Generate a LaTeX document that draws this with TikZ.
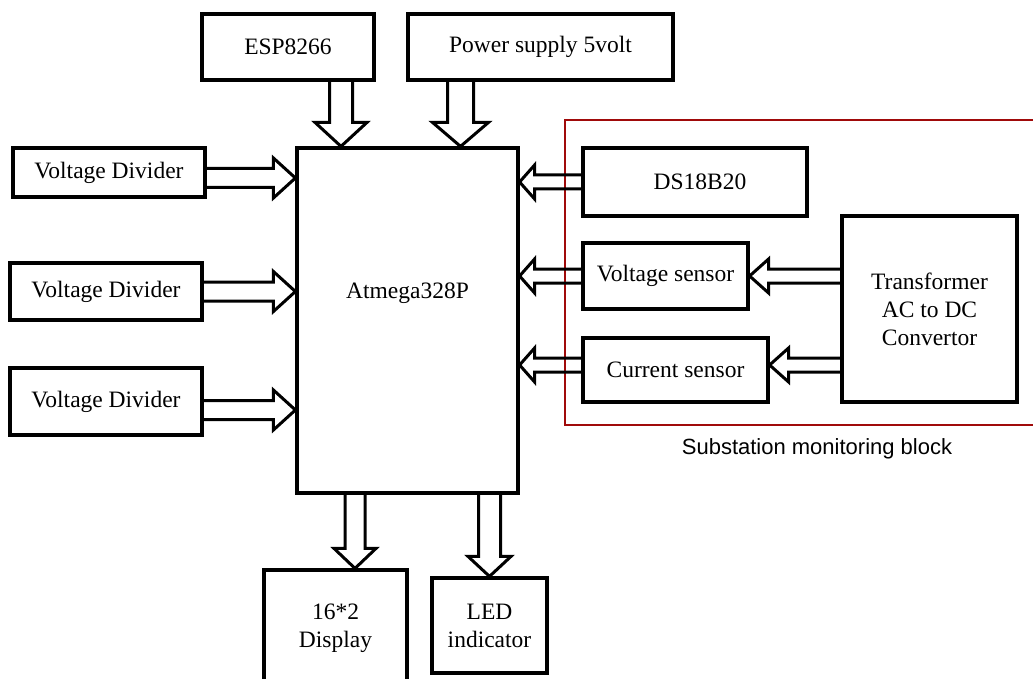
\documentclass[tikz,border=0pt]{standalone}
\usepackage{fontspec}
\setmainfont{Liberation Serif}
\newfontfamily\labelsans{Liberation Sans}
\usetikzlibrary{calc}
\definecolor{redline}{RGB}{160,10,10}
\tikzset{
  box/.style={draw, line width=3.2pt, inner sep=0pt, align=center,
    font=\fontsize{23.5}{28}\selectfont},
  bus/.style={draw, line width=3pt, line join=miter},
  groupframe/.style={draw=redline, line width=2.4pt},
}
% #1 from, #2 tip, #3 shaft half width, #4 head half width, #5 head length
\newcommand\busarrow[5]{%
  \path ($(#2)!#5!(#1)$) coordinate (hb);
  \draw[bus] ($(#1)!#3!90:(#2)$) -- ($(hb)!#3!90:(#2)$) -- ($(hb)!#4!90:(#2)$)
    -- (#2) -- ($(hb)!#4!-90:(#2)$) -- ($(hb)!#3!-90:(#2)$) -- ($(#1)!#3!-90:(#2)$);
}
\begin{document}
\begin{tikzpicture}[x=1pt,y=-1pt]
\useasboundingbox (0,0) rectangle (1033,679);

% red frame (open to the right edge)
\draw[groupframe] (1040,120) -- (565,120) -- (565,425) -- (1040,425);
\node[font=\labelsans\fontsize{22}{26}\selectfont] (grp) at (817,449) {Substation monitoring block};

% boxes
\node[box, minimum width=172pt, minimum height=66pt] (esp) at (288,47) {ESP8266};
\node[box, minimum width=265pt, minimum height=66pt] (pw) at (540.5,47) {Power supply 5volt};
\node[box, minimum width=221pt, minimum height=345pt,
      label={[font=\fontsize{23.5}{28}\selectfont, yshift=27pt]center:Atmega328P}] (atm) at (407.5,320.5) {};
\node[box, minimum width=192pt, minimum height=49pt] (vd1) at (109,172.5) {Voltage Divider};
\node[box, minimum width=192pt, minimum height=57pt] (vd2) at (106,291.5) {Voltage Divider};
\node[box, minimum width=192pt, minimum height=67pt] (vd3) at (106,401.5) {Voltage Divider};
\node[box, minimum width=224pt, minimum height=68pt] (ds) at (695,182) {\hspace*{10pt}DS18B20};
\node[box, minimum width=165pt, minimum height=66pt] (vs) at (665.5,276) {Voltage sensor};
\node[box, minimum width=185pt, minimum height=64pt] (cs) at (675.5,370) {Current sensor};
\node[box, minimum width=175pt, minimum height=186pt] (tr) at (929.5,309) {Transformer\\AC to DC\\Convertor};
\node[box, minimum width=143pt, minimum height=116pt] (disp) at (335.5,628) {16*2\\Display};
\node[box, minimum width=115pt, minimum height=95pt] (led) at (489.5,625.5) {LED\\indicator};

% connector end points
\coordinate (espS) at ($(esp.south)+(53,0)$);
\coordinate (espT) at (atm.north -| espS);
\coordinate (pwS) at ($(pw.south)+(-80,0)$);
\coordinate (pwT) at (atm.north -| pwS);
\coordinate (vd1S) at ($(vd1.east)+(0,5.5)$);
\coordinate (vd1T) at (atm.west |- vd1S);
\coordinate (vd2T) at (atm.west |- vd2.east);
\coordinate (vd3S) at ($(vd3.east)+(0,8.5)$);
\coordinate (vd3T) at (atm.west |- vd3S);
\coordinate (dsT) at (atm.east |- ds.west);
\coordinate (vsT) at (atm.east |- vs.west);
\coordinate (csS) at ($(cs.west)+(0,-5)$);
\coordinate (csT) at (atm.east |- csS);
\coordinate (trV) at (tr.west |- vs.east);
\coordinate (csE) at ($(cs.east)+(0,-5)$);
\coordinate (trC) at (tr.west |- csE);
\coordinate (dispT) at ($(disp.north)+(19.5,0)$);
\coordinate (dispS) at (atm.south -| dispT);
\coordinate (ledS) at (atm.south -| led.north);

% bus arrows
\busarrow{espS}{espT}{11.5pt}{26pt}{24pt}
\busarrow{pwS}{pwT}{13pt}{28pt}{24pt}
\busarrow{vd1S}{vd1T}{9.5pt}{20pt}{22pt}
\busarrow{vd2.east}{vd2T}{9.5pt}{20pt}{22pt}
\busarrow{vd3S}{vd3T}{9.5pt}{20pt}{22pt}
\busarrow{ds.west}{dsT}{7pt}{17pt}{15pt}
\busarrow{vs.west}{vsT}{7pt}{17pt}{15pt}
\busarrow{csS}{csT}{7pt}{17pt}{15pt}
\busarrow{trV}{vs.east}{7pt}{17pt}{19pt}
\busarrow{trC}{csE}{7pt}{17pt}{19pt}
\busarrow{dispS}{dispT}{10pt}{21pt}{20pt}
\busarrow{ledS}{led.north}{11pt}{21.5pt}{20pt}
\end{tikzpicture}
\end{document}
